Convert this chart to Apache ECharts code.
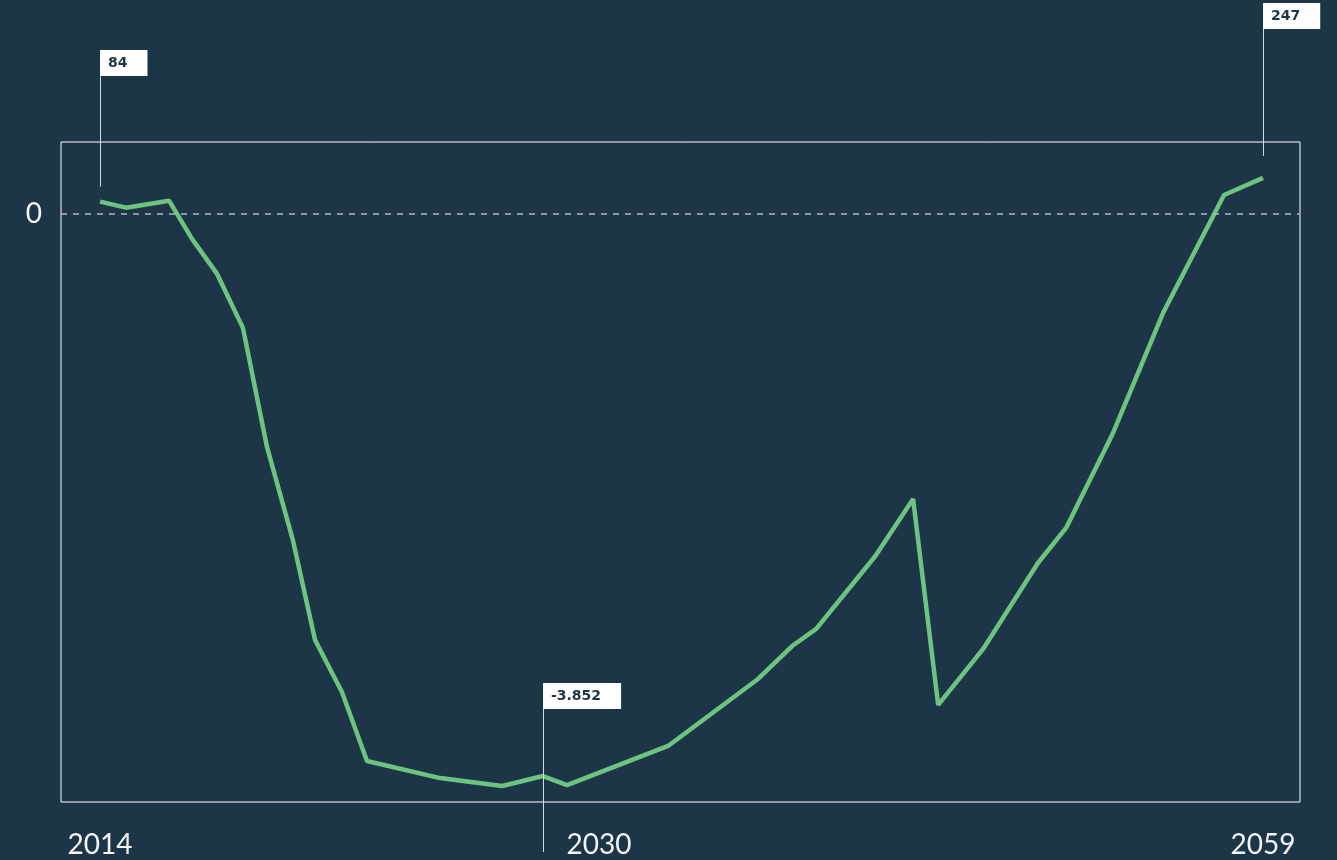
<!DOCTYPE html>
<html lang="en">
<head>
    <meta charset="UTF-8">
    <script src="https://cdn.jsdelivr.net/npm/echarts@6/dist/echarts.min.js"></script>
    <title>Line with annotations</title>
    <style>
        html, body { margin: 0; padding: 0; background: #1c3547; }
    </style>
</head>
<body>
<div id="main" style="width: 1337px;height:860px;"></div>
<script type="text/javascript">
    // data (x in years, y in units)
    var years = [2014, 2015.01, 2016.67, 2017.56, 2018.53, 2019.53, 2020.46, 2021.47, 2022.32, 2023.36,
        2024.33, 2027.16, 2029.56, 2031.14, 2032.07, 2035.98, 2039.46, 2040.78, 2041.71, 2044.0,
        2045.46, 2046.43, 2048.17, 2050.29, 2051.38, 2053.16, 2055.13, 2057.49, 2059];
    var values = [84, 43, 91, -171, -411, -781, -1597, -2241, -2920, -3276,
        -3749, -3866, -3920, -3852, -3914, -3646, -3187, -2961, -2844, -2344,
        -1953, -3365, -2981, -2392, -2152, -1515, -679, 130, 247];

    // annotated points and axis labels
    var annotated = [0, 13, 28];
    var tickIndex = [0, 13, 28];
    var tickLabels = ['2014', '2030', '2059'];

    var bg = '#1c3547';
    var green = '#6cc47e';
    var labelFont = 'Lato';

    function fmt(v) {
        // thousands separator is a dot in this chart
        var s = Math.abs(v).toString().replace(/\B(?=(\d{3})+(?!\d))/g, '.');
        return (v < 0 ? '-' : '') + s;
    }

    var seriesData = [];
    for (var i = 0; i < years.length; i++) {
        seriesData.push([years[i], values[i]]);
    }
    var annoData = annotated.map(function (idx) {
        return [years[idx], values[idx], idx];
    });
    var tickValues = tickIndex.map(function (idx) { return years[idx]; });

    // box top / leader line end, relative to the point
    var annoLayout = {
        0: {boxDy: -152, lineFrom: -15},
        13: {boxDy: -93, lineFrom: 76},
        28: {boxDy: -175, lineFrom: -22}
    };

    var myChart = echarts.init(document.getElementById('main'));

    var option = {
        backgroundColor: bg,
        animation: false,
        grid: {
            left: 61,
            right: 37,
            top: 142,
            bottom: 58,
            show: true,
            borderColor: '#ffffff',
            borderWidth: 1,
            backgroundColor: 'transparent'
        },
        xAxis: {
            type: 'value',
            min: 2012.49,
            max: 2060.43,
            axisLine: {show: false},
            axisTick: {show: false},
            splitLine: {show: false},
            axisLabel: {
                customValues: tickValues,
                color: '#f4f4f4',
                fontFamily: labelFont,
                fontWeight: 400,
                fontSize: 28,
                margin: 29,
                formatter: function (val) {
                    var k = tickValues.indexOf(val);
                    if (k === 1) {
                        return '{mid|' + tickLabels[k] + '}';
                    }
                    return k >= 0 ? tickLabels[k] : '';
                },
                rich: {
                    mid: {
                        padding: [0, 0, 0, 112],
                        color: '#f4f4f4',
                        fontFamily: labelFont,
                        fontWeight: 400,
                        fontSize: 28
                    }
                }
            }
        },
        yAxis: {
            type: 'value',
            min: -4030,
            max: 493,
            axisLine: {show: false},
            axisTick: {show: false},
            splitLine: {show: false},
            axisLabel: {
                customValues: [0],
                color: '#f4f4f4',
                fontFamily: labelFont,
                fontWeight: 400,
                fontSize: 28,
                margin: 19
            }
        },
        series: [
            {
                type: 'line',
                data: seriesData,
                symbol: 'none',
                lineStyle: {color: green, width: 4.5},
                z: 3,
                markLine: {
                    silent: true,
                    symbol: 'none',
                    label: {show: false},
                    lineStyle: {color: '#aeb7bf', type: [6, 6], width: 1.5},
                    data: [{yAxis: 0}]
                }
            },
            {
                type: 'custom',
                data: annoData,
                z: 4,
                clip: false,
                renderItem: function (params, api) {
                    var pt = api.coord([api.value(0), api.value(1)]);
                    var idx = api.value(2);
                    var lay = annoLayout[idx];
                    var top = Math.round(pt[1] + lay.boxDy);
                    var x = Math.round(pt[0]) + 0.5;
                    return {
                        type: 'group',
                        children: [
                            {
                                type: 'line',
                                shape: {x1: x, y1: top, x2: x, y2: pt[1] + lay.lineFrom},
                                style: {stroke: '#d5dade', lineWidth: 1}
                            },
                            {
                                type: 'text',
                                x: Math.round(pt[0]),
                                y: top,
                                style: {
                                    text: fmt(values[idx]),
                                    fill: bg,
                                    font: 'bold 14px "DejaVu Sans"',
                                    backgroundColor: '#ffffff',
                                    padding: [5, 20, 5, 8],
                                    lineHeight: 16,
                                    align: 'left',
                                    verticalAlign: 'top'
                                }
                            }
                        ]
                    };
                }
            }
        ]
    };

    myChart.setOption(option);
</script>
</body>
</html>
